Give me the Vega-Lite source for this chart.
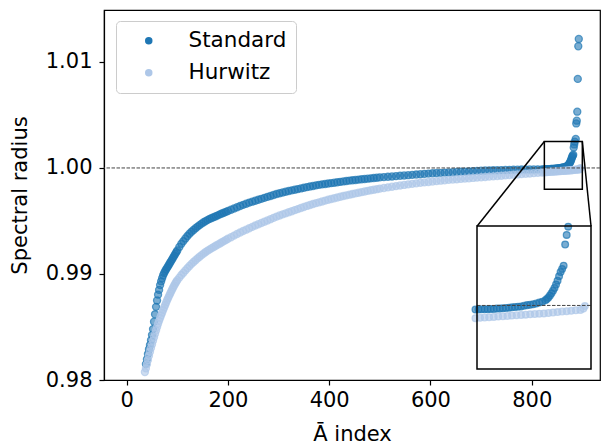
{
  "$schema": "https://vega.github.io/schema/vega-lite/v6.json",
  "width": 496,
  "height": 370,
  "autosize": {"type": "none"},
  "padding": {"left": 104, "top": 10, "right": 1, "bottom": 65},
  "background": "white",
  "config": {
    "font": "DejaVu Sans",
    "view": {"stroke": "black", "strokeWidth": 1.2},
    "axis": {
      "grid": false, "domainColor": "black", "domainWidth": 1.2, "tickColor": "black", "tickWidth": 1.2,
      "labelColor": "black", "titleColor": "black", "labelFontSize": 21, "titleFontSize": 21,
      "titleFontWeight": "normal", "tickSize": 5, "labelFont": "DejaVu Sans", "titleFont": "DejaVu Sans", "labelPadding": 4
    }
  },
  "datasets": {
    "pts": [
      {"s":"Standard","x":38,"y":0.98150},{"s":"Standard","x":40,"y":0.98195},{"s":"Standard","x":42,"y":0.98245},{"s":"Standard","x":44,"y":0.98290},
      {"s":"Standard","x":46,"y":0.98330},{"s":"Standard","x":48,"y":0.98375},{"s":"Standard","x":50,"y":0.98425},{"s":"Standard","x":52,"y":0.98480},
      {"s":"Standard","x":54,"y":0.98550},{"s":"Standard","x":56,"y":0.98620},{"s":"Standard","x":58,"y":0.98690},{"s":"Standard","x":60,"y":0.98750},
      {"s":"Standard","x":62,"y":0.98805},{"s":"Standard","x":64,"y":0.98850},{"s":"Standard","x":66,"y":0.98895},{"s":"Standard","x":68,"y":0.98930},
      {"s":"Standard","x":70,"y":0.98960},{"s":"Standard","x":72,"y":0.98988},{"s":"Standard","x":74,"y":0.99010},{"s":"Standard","x":76,"y":0.99028},
      {"s":"Standard","x":78,"y":0.99045},{"s":"Standard","x":80,"y":0.99060},{"s":"Standard","x":82,"y":0.99075},{"s":"Standard","x":84,"y":0.99092},
      {"s":"Standard","x":86,"y":0.99108},{"s":"Standard","x":88,"y":0.99124},{"s":"Standard","x":90,"y":0.99140},{"s":"Standard","x":92,"y":0.99157},
      {"s":"Standard","x":94,"y":0.99173},{"s":"Standard","x":96,"y":0.99190},{"s":"Standard","x":98,"y":0.99206},{"s":"Standard","x":100,"y":0.99222},
      {"s":"Standard","x":104,"y":0.99255},{"s":"Standard","x":108,"y":0.99285},{"s":"Standard","x":112,"y":0.99310},{"s":"Standard","x":116,"y":0.99335},
      {"s":"Standard","x":120,"y":0.99358},{"s":"Standard","x":124,"y":0.99380},{"s":"Standard","x":128,"y":0.99398},{"s":"Standard","x":132,"y":0.99415},
      {"s":"Standard","x":136,"y":0.99432},{"s":"Standard","x":140,"y":0.99447},{"s":"Standard","x":144,"y":0.99461},{"s":"Standard","x":148,"y":0.99475},
      {"s":"Standard","x":152,"y":0.99488},{"s":"Standard","x":156,"y":0.99499},{"s":"Standard","x":160,"y":0.99510},{"s":"Standard","x":164,"y":0.99520},
      {"s":"Standard","x":168,"y":0.99528},{"s":"Standard","x":172,"y":0.99536},{"s":"Standard","x":176,"y":0.99545},{"s":"Standard","x":180,"y":0.99553},
      {"s":"Standard","x":184,"y":0.99562},{"s":"Standard","x":188,"y":0.99570},{"s":"Standard","x":192,"y":0.99578},{"s":"Standard","x":196,"y":0.99586},
      {"s":"Standard","x":200,"y":0.99594},{"s":"Standard","x":206,"y":0.99606},{"s":"Standard","x":212,"y":0.99618},{"s":"Standard","x":218,"y":0.99630},
      {"s":"Standard","x":224,"y":0.99641},{"s":"Standard","x":230,"y":0.99652},{"s":"Standard","x":236,"y":0.99663},{"s":"Standard","x":242,"y":0.99673},
      {"s":"Standard","x":248,"y":0.99682},{"s":"Standard","x":254,"y":0.99691},{"s":"Standard","x":260,"y":0.99700},{"s":"Standard","x":266,"y":0.99709},
      {"s":"Standard","x":272,"y":0.99718},{"s":"Standard","x":278,"y":0.99727},{"s":"Standard","x":284,"y":0.99736},{"s":"Standard","x":290,"y":0.99745},
      {"s":"Standard","x":296,"y":0.99754},{"s":"Standard","x":302,"y":0.99762},{"s":"Standard","x":308,"y":0.99769},{"s":"Standard","x":314,"y":0.99776},
      {"s":"Standard","x":320,"y":0.99783},{"s":"Standard","x":326,"y":0.99789},{"s":"Standard","x":332,"y":0.99795},{"s":"Standard","x":338,"y":0.99801},
      {"s":"Standard","x":344,"y":0.99807},{"s":"Standard","x":350,"y":0.99813},{"s":"Standard","x":356,"y":0.99819},{"s":"Standard","x":362,"y":0.99825},
      {"s":"Standard","x":368,"y":0.99830},{"s":"Standard","x":374,"y":0.99836},{"s":"Standard","x":380,"y":0.99841},{"s":"Standard","x":386,"y":0.99845},
      {"s":"Standard","x":392,"y":0.99849},{"s":"Standard","x":398,"y":0.99853},{"s":"Standard","x":404,"y":0.99857},{"s":"Standard","x":410,"y":0.99861},
      {"s":"Standard","x":416,"y":0.99865},{"s":"Standard","x":422,"y":0.99869},{"s":"Standard","x":428,"y":0.99873},{"s":"Standard","x":434,"y":0.99877},
      {"s":"Standard","x":440,"y":0.99881},{"s":"Standard","x":446,"y":0.99884},{"s":"Standard","x":452,"y":0.99887},{"s":"Standard","x":458,"y":0.99890},
      {"s":"Standard","x":464,"y":0.99893},{"s":"Standard","x":470,"y":0.99896},{"s":"Standard","x":476,"y":0.99899},{"s":"Standard","x":482,"y":0.99902},
      {"s":"Standard","x":488,"y":0.99905},{"s":"Standard","x":494,"y":0.99908},{"s":"Standard","x":500,"y":0.99911},{"s":"Standard","x":508,"y":0.99914},
      {"s":"Standard","x":516,"y":0.99917},{"s":"Standard","x":524,"y":0.99920},{"s":"Standard","x":532,"y":0.99923},{"s":"Standard","x":540,"y":0.99926},
      {"s":"Standard","x":548,"y":0.99929},{"s":"Standard","x":556,"y":0.99932},{"s":"Standard","x":564,"y":0.99935},{"s":"Standard","x":572,"y":0.99938},
      {"s":"Standard","x":580,"y":0.99941},{"s":"Standard","x":588,"y":0.99944},{"s":"Standard","x":596,"y":0.99947},{"s":"Standard","x":604,"y":0.99950},
      {"s":"Standard","x":612,"y":0.99952},{"s":"Standard","x":620,"y":0.99954},{"s":"Standard","x":628,"y":0.99956},{"s":"Standard","x":636,"y":0.99958},
      {"s":"Standard","x":644,"y":0.99960},{"s":"Standard","x":652,"y":0.99962},{"s":"Standard","x":660,"y":0.99964},{"s":"Standard","x":668,"y":0.99966},
      {"s":"Standard","x":676,"y":0.99968},{"s":"Standard","x":684,"y":0.99970},{"s":"Standard","x":692,"y":0.99972},{"s":"Standard","x":700,"y":0.99974},
      {"s":"Standard","x":708,"y":0.99976},{"s":"Standard","x":716,"y":0.99977},{"s":"Standard","x":724,"y":0.99978},{"s":"Standard","x":732,"y":0.99979},
      {"s":"Standard","x":740,"y":0.99980},{"s":"Standard","x":748,"y":0.99981},{"s":"Standard","x":756,"y":0.99982},{"s":"Standard","x":764,"y":0.99983},
      {"s":"Standard","x":772,"y":0.99984},{"s":"Standard","x":780,"y":0.99985},{"s":"Standard","x":788,"y":0.99985},{"s":"Standard","x":796,"y":0.99986},
      {"s":"Standard","x":804,"y":0.99986},{"s":"Standard","x":812,"y":0.99987},{"s":"Standard","x":820,"y":0.99987},{"s":"Standard","x":824,"y":0.99987},
      {"s":"Standard","x":826,"y":0.99987},{"s":"Standard","x":828,"y":0.99988},{"s":"Standard","x":830,"y":0.99988},{"s":"Standard","x":832,"y":0.99988},
      {"s":"Standard","x":834,"y":0.99989},{"s":"Standard","x":836,"y":0.99989},{"s":"Standard","x":838,"y":0.99990},{"s":"Standard","x":840,"y":0.99990},
      {"s":"Standard","x":842,"y":0.99991},{"s":"Standard","x":844,"y":0.99992},{"s":"Standard","x":846,"y":0.99993},{"s":"Standard","x":848,"y":0.99994},
      {"s":"Standard","x":850,"y":0.99995},{"s":"Standard","x":852,"y":0.99996},{"s":"Standard","x":854,"y":0.99997},{"s":"Standard","x":856,"y":0.99999},
      {"s":"Standard","x":858,"y":1.00001},{"s":"Standard","x":860,"y":1.00002},{"s":"Standard","x":862,"y":1.00004},{"s":"Standard","x":864,"y":1.00006},
      {"s":"Standard","x":866,"y":1.00009},{"s":"Standard","x":868,"y":1.00012},{"s":"Standard","x":870,"y":1.00016},{"s":"Standard","x":871,"y":1.00020},
      {"s":"Standard","x":872,"y":1.00025},{"s":"Standard","x":873,"y":1.00031},{"s":"Standard","x":874,"y":1.00038},{"s":"Standard","x":875,"y":1.00046},
      {"s":"Standard","x":876,"y":1.00055},{"s":"Standard","x":877,"y":1.00066},{"s":"Standard","x":878,"y":1.00078},{"s":"Standard","x":879,"y":1.00092},
      {"s":"Standard","x":880,"y":1.00105},{"s":"Standard","x":881,"y":1.00115},{"s":"Standard","x":882,"y":1.00125},{"s":"Standard","x":883,"y":1.00192},
      {"s":"Standard","x":884,"y":1.00222},{"s":"Standard","x":885,"y":1.00248},{"s":"Standard","x":887,"y":1.00274},{"s":"Standard","x":888,"y":1.00420},
      {"s":"Standard","x":889,"y":1.00446},{"s":"Standard","x":890,"y":1.00531},{"s":"Standard","x":891,"y":1.00840},{"s":"Standard","x":892,"y":1.01148},
      {"s":"Standard","x":893,"y":1.01217},
      {"s":"Hurwitz","x":36,"y":0.98075},{"s":"Hurwitz","x":38,"y":0.98110},{"s":"Hurwitz","x":40,"y":0.98148},{"s":"Hurwitz","x":42,"y":0.98188},
      {"s":"Hurwitz","x":44,"y":0.98228},{"s":"Hurwitz","x":46,"y":0.98266},{"s":"Hurwitz","x":48,"y":0.98302},{"s":"Hurwitz","x":50,"y":0.98336},
      {"s":"Hurwitz","x":52,"y":0.98370},{"s":"Hurwitz","x":54,"y":0.98404},{"s":"Hurwitz","x":56,"y":0.98436},{"s":"Hurwitz","x":58,"y":0.98468},
      {"s":"Hurwitz","x":60,"y":0.98500},{"s":"Hurwitz","x":62,"y":0.98530},{"s":"Hurwitz","x":64,"y":0.98558},{"s":"Hurwitz","x":66,"y":0.98585},
      {"s":"Hurwitz","x":68,"y":0.98610},{"s":"Hurwitz","x":70,"y":0.98635},{"s":"Hurwitz","x":72,"y":0.98660},{"s":"Hurwitz","x":74,"y":0.98684},
      {"s":"Hurwitz","x":76,"y":0.98708},{"s":"Hurwitz","x":78,"y":0.98731},{"s":"Hurwitz","x":80,"y":0.98754},{"s":"Hurwitz","x":82,"y":0.98775},
      {"s":"Hurwitz","x":84,"y":0.98796},{"s":"Hurwitz","x":86,"y":0.98816},{"s":"Hurwitz","x":88,"y":0.98836},{"s":"Hurwitz","x":90,"y":0.98856},
      {"s":"Hurwitz","x":92,"y":0.98875},{"s":"Hurwitz","x":94,"y":0.98893},{"s":"Hurwitz","x":96,"y":0.98910},{"s":"Hurwitz","x":98,"y":0.98926},
      {"s":"Hurwitz","x":100,"y":0.98942},{"s":"Hurwitz","x":104,"y":0.98966},{"s":"Hurwitz","x":108,"y":0.98990},{"s":"Hurwitz","x":112,"y":0.99012},
      {"s":"Hurwitz","x":116,"y":0.99034},{"s":"Hurwitz","x":120,"y":0.99055},{"s":"Hurwitz","x":124,"y":0.99076},{"s":"Hurwitz","x":128,"y":0.99095},
      {"s":"Hurwitz","x":132,"y":0.99113},{"s":"Hurwitz","x":136,"y":0.99130},{"s":"Hurwitz","x":140,"y":0.99147},{"s":"Hurwitz","x":144,"y":0.99163},
      {"s":"Hurwitz","x":148,"y":0.99178},{"s":"Hurwitz","x":152,"y":0.99193},{"s":"Hurwitz","x":156,"y":0.99207},{"s":"Hurwitz","x":160,"y":0.99220},
      {"s":"Hurwitz","x":164,"y":0.99232},{"s":"Hurwitz","x":168,"y":0.99244},{"s":"Hurwitz","x":172,"y":0.99255},{"s":"Hurwitz","x":176,"y":0.99266},
      {"s":"Hurwitz","x":180,"y":0.99277},{"s":"Hurwitz","x":184,"y":0.99288},{"s":"Hurwitz","x":188,"y":0.99299},{"s":"Hurwitz","x":192,"y":0.99310},
      {"s":"Hurwitz","x":196,"y":0.99321},{"s":"Hurwitz","x":200,"y":0.99332},{"s":"Hurwitz","x":206,"y":0.99347},{"s":"Hurwitz","x":212,"y":0.99362},
      {"s":"Hurwitz","x":218,"y":0.99377},{"s":"Hurwitz","x":224,"y":0.99391},{"s":"Hurwitz","x":230,"y":0.99405},{"s":"Hurwitz","x":236,"y":0.99418},
      {"s":"Hurwitz","x":242,"y":0.99431},{"s":"Hurwitz","x":248,"y":0.99444},{"s":"Hurwitz","x":254,"y":0.99457},{"s":"Hurwitz","x":260,"y":0.99469},
      {"s":"Hurwitz","x":266,"y":0.99481},{"s":"Hurwitz","x":272,"y":0.99493},{"s":"Hurwitz","x":278,"y":0.99505},{"s":"Hurwitz","x":284,"y":0.99517},
      {"s":"Hurwitz","x":290,"y":0.99529},{"s":"Hurwitz","x":296,"y":0.99541},{"s":"Hurwitz","x":302,"y":0.99552},{"s":"Hurwitz","x":308,"y":0.99562},
      {"s":"Hurwitz","x":314,"y":0.99572},{"s":"Hurwitz","x":320,"y":0.99582},{"s":"Hurwitz","x":326,"y":0.99592},{"s":"Hurwitz","x":332,"y":0.99602},
      {"s":"Hurwitz","x":338,"y":0.99612},{"s":"Hurwitz","x":344,"y":0.99622},{"s":"Hurwitz","x":350,"y":0.99632},{"s":"Hurwitz","x":356,"y":0.99642},
      {"s":"Hurwitz","x":362,"y":0.99651},{"s":"Hurwitz","x":368,"y":0.99660},{"s":"Hurwitz","x":374,"y":0.99668},{"s":"Hurwitz","x":380,"y":0.99676},
      {"s":"Hurwitz","x":386,"y":0.99684},{"s":"Hurwitz","x":392,"y":0.99692},{"s":"Hurwitz","x":398,"y":0.99700},{"s":"Hurwitz","x":404,"y":0.99707},
      {"s":"Hurwitz","x":410,"y":0.99714},{"s":"Hurwitz","x":416,"y":0.99721},{"s":"Hurwitz","x":422,"y":0.99728},{"s":"Hurwitz","x":428,"y":0.99735},
      {"s":"Hurwitz","x":434,"y":0.99742},{"s":"Hurwitz","x":440,"y":0.99748},{"s":"Hurwitz","x":446,"y":0.99754},{"s":"Hurwitz","x":452,"y":0.99760},
      {"s":"Hurwitz","x":458,"y":0.99766},{"s":"Hurwitz","x":464,"y":0.99772},{"s":"Hurwitz","x":470,"y":0.99778},{"s":"Hurwitz","x":476,"y":0.99784},
      {"s":"Hurwitz","x":482,"y":0.99790},{"s":"Hurwitz","x":488,"y":0.99795},{"s":"Hurwitz","x":494,"y":0.99800},{"s":"Hurwitz","x":500,"y":0.99805},
      {"s":"Hurwitz","x":508,"y":0.99811},{"s":"Hurwitz","x":516,"y":0.99817},{"s":"Hurwitz","x":524,"y":0.99823},{"s":"Hurwitz","x":532,"y":0.99829},
      {"s":"Hurwitz","x":540,"y":0.99835},{"s":"Hurwitz","x":548,"y":0.99840},{"s":"Hurwitz","x":556,"y":0.99845},{"s":"Hurwitz","x":564,"y":0.99850},
      {"s":"Hurwitz","x":572,"y":0.99855},{"s":"Hurwitz","x":580,"y":0.99860},{"s":"Hurwitz","x":588,"y":0.99864},{"s":"Hurwitz","x":596,"y":0.99868},
      {"s":"Hurwitz","x":604,"y":0.99872},{"s":"Hurwitz","x":612,"y":0.99876},{"s":"Hurwitz","x":620,"y":0.99880},{"s":"Hurwitz","x":628,"y":0.99884},
      {"s":"Hurwitz","x":636,"y":0.99888},{"s":"Hurwitz","x":644,"y":0.99891},{"s":"Hurwitz","x":652,"y":0.99894},{"s":"Hurwitz","x":660,"y":0.99897},
      {"s":"Hurwitz","x":668,"y":0.99900},{"s":"Hurwitz","x":676,"y":0.99903},{"s":"Hurwitz","x":684,"y":0.99906},{"s":"Hurwitz","x":692,"y":0.99909},
      {"s":"Hurwitz","x":700,"y":0.99912},{"s":"Hurwitz","x":708,"y":0.99915},{"s":"Hurwitz","x":716,"y":0.99918},{"s":"Hurwitz","x":724,"y":0.99921},
      {"s":"Hurwitz","x":732,"y":0.99924},{"s":"Hurwitz","x":740,"y":0.99927},{"s":"Hurwitz","x":748,"y":0.99930},{"s":"Hurwitz","x":756,"y":0.99933},
      {"s":"Hurwitz","x":764,"y":0.99936},{"s":"Hurwitz","x":772,"y":0.99939},{"s":"Hurwitz","x":780,"y":0.99942},{"s":"Hurwitz","x":788,"y":0.99945},
      {"s":"Hurwitz","x":796,"y":0.99948},{"s":"Hurwitz","x":804,"y":0.99951},{"s":"Hurwitz","x":812,"y":0.99954},{"s":"Hurwitz","x":820,"y":0.99957},
      {"s":"Hurwitz","x":824,"y":0.99960},{"s":"Hurwitz","x":827,"y":0.99961},{"s":"Hurwitz","x":830,"y":0.99962},{"s":"Hurwitz","x":833,"y":0.99963},
      {"s":"Hurwitz","x":836,"y":0.99964},{"s":"Hurwitz","x":839,"y":0.99965},{"s":"Hurwitz","x":842,"y":0.99966},{"s":"Hurwitz","x":845,"y":0.99967},
      {"s":"Hurwitz","x":848,"y":0.99968},{"s":"Hurwitz","x":851,"y":0.99969},{"s":"Hurwitz","x":854,"y":0.99970},{"s":"Hurwitz","x":857,"y":0.99971},
      {"s":"Hurwitz","x":860,"y":0.99972},{"s":"Hurwitz","x":863,"y":0.99973},{"s":"Hurwitz","x":866,"y":0.99974},{"s":"Hurwitz","x":869,"y":0.99975},
      {"s":"Hurwitz","x":872,"y":0.99976},{"s":"Hurwitz","x":875,"y":0.99978},{"s":"Hurwitz","x":878,"y":0.99979},{"s":"Hurwitz","x":881,"y":0.99981},
      {"s":"Hurwitz","x":884,"y":0.99982},{"s":"Hurwitz","x":887,"y":0.99983},{"s":"Hurwitz","x":890,"y":0.99985},{"s":"Hurwitz","x":893,"y":0.99986},
      {"s":"Hurwitz","x":895,"y":0.99990},{"s":"Hurwitz","x":896,"y":0.99998}
    ]
  },
  "layer": [
    {
      "layer": [
        {
          "data": {"name": "pts"},
          "mark": {"type": "point", "filled": true, "size": 50, "fillOpacity": 0.6, "strokeOpacity": 0.7, "strokeWidth": 1.3},
          "encoding": {
            "x": {"field": "x", "type": "quantitative", "scale": {"domain": [-44.8, 934.9], "nice": false, "zero": false},
                  "axis": {"values": [0, 200, 400, 600, 800], "title": "Ā index", "titlePadding": 13}},
            "y": {"field": "y", "type": "quantitative", "scale": {"domain": [0.98, 1.0149], "nice": false, "zero": false},
                  "axis": {"values": [0.98, 0.99, 1.0, 1.01], "format": ".2f", "title": "Spectral radius", "titlePadding": 15, "labelPadding": 7}},
            "fill": {"field": "s", "type": "nominal", "scale": {"domain": ["Standard", "Hurwitz"], "range": ["#1f77b4", "#aec7e8"]},
                     "legend": {"title": null, "orient": "none", "legendX": 12, "legendY": 11, "labelFontSize": 21.5, "labelFont": "DejaVu Sans",
                                "labelColor": "black", "symbolType": "circle", "symbolSize": 36, "padding": 9, "rowPadding": 9,
                                "symbolOffset": 13, "labelOffset": 29, "strokeColor": "#cccccc", "cornerRadius": 4, "fillColor": "white"}},
            "stroke": {"field": "s", "type": "nominal", "scale": {"domain": ["Standard", "Hurwitz"], "range": ["#1f77b4", "#aec7e8"]}}
          }
        },
        {
          "data": {"values": [{}]},
          "mark": {"type": "rule", "color": "#444444", "strokeWidth": 1, "strokeDash": [3.5, 1.5]},
          "encoding": {"y": {"datum": 1.0}}
        },
        {
          "data": {"values": [{}]},
          "mark": {"type": "rect", "fill": null, "fillOpacity": 0, "stroke": "black", "strokeWidth": 1.5},
          "encoding": {"x": {"datum": 825}, "x2": {"datum": 900}, "y": {"datum": 0.998}, "y2": {"datum": 1.0025}}
        },
        {
          "data": {"values": [{}]},
          "mark": {"type": "rule", "color": "black", "strokeWidth": 1.5},
          "encoding": {"x": {"datum": 825}, "y": {"datum": 1.0025}, "x2": {"datum": 692}, "y2": {"datum": 0.9945}}
        },
        {
          "data": {"values": [{}]},
          "mark": {"type": "rule", "color": "black", "strokeWidth": 1.5},
          "encoding": {"x": {"datum": 900}, "y": {"datum": 1.0025}, "x2": {"datum": 917.2}, "y2": {"datum": 0.9945}}
        }
      ]
    },
    {
      "layer": [
        {
          "data": {"name": "pts"},
          "transform": [{"filter": {"field": "x", "range": [824, 901]}}, {"filter": {"field": "y", "range": [0.9979, 1.0026]}}],
          "mark": {"type": "point", "filled": true, "size": 45, "fillOpacity": 0.6, "strokeOpacity": 0.7, "strokeWidth": 1.3},
          "encoding": {
            "x": {"field": "x", "type": "quantitative", "scale": {"domain": [825, 900], "range": [373, 487], "nice": false, "zero": false}, "axis": null},
            "y": {"field": "y", "type": "quantitative", "scale": {"domain": [0.998, 1.0025], "range": [359, 216], "nice": false, "zero": false}, "axis": null},
            "fill": {"field": "s", "type": "nominal"},
            "stroke": {"field": "s", "type": "nominal"}
          }
        },
        {
          "data": {"values": [{}]},
          "mark": {"type": "rule", "color": "#444444", "strokeWidth": 1, "strokeDash": [3.5, 1.5]},
          "encoding": {"x": {"datum": 825}, "x2": {"datum": 900}, "y": {"datum": 1.0}}
        },
        {
          "data": {"values": [{}]},
          "mark": {"type": "rect", "fill": null, "fillOpacity": 0, "stroke": "black", "strokeWidth": 1.5},
          "encoding": {"x": {"datum": 825}, "x2": {"datum": 900}, "y": {"datum": 0.998}, "y2": {"datum": 1.0025}}
        }
      ]
    }
  ],
  "resolve": {"scale": {"x": "independent", "y": "independent"}}
}
